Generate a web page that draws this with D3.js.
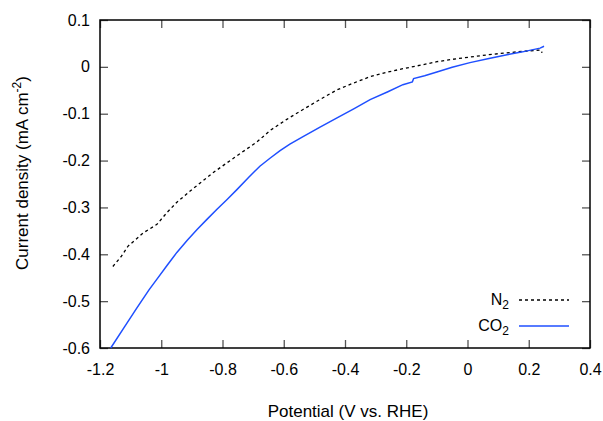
<!DOCTYPE html>
<html>
<head>
<meta charset="utf-8">
<script src="https://cdn.jsdelivr.net/npm/d3@7"></script>
<style>
  body { margin: 0; background: #fff; }
  text { font-family: "Liberation Sans", Arial, sans-serif; }
</style>
</head>
<body>
<svg id="chart" width="603" height="421"></svg>
<script>
// potential (V vs. RHE) and current density (mA cm-2)
var n2_x = [-1.158, -1.13, -1.109, -1.06, -1.014, -0.98, -0.949, -0.9, -0.831, -0.76, -0.687,
            -0.645, -0.59, -0.537, -0.48, -0.426, -0.37, -0.318, -0.26, -0.211, -0.15, -0.100,
            -0.05, 0.008, 0.07, 0.129, 0.18, 0.237, 0.242, 0.243];
var n2_y = [-0.426, -0.404, -0.383, -0.355, -0.336, -0.31, -0.289, -0.262, -0.226, -0.193, -0.160,
            -0.136, -0.112, -0.091, -0.069, -0.049, -0.034, -0.021, -0.011, -0.004, 0.004, 0.011,
            0.016, 0.021, 0.026, 0.030, 0.033, 0.036, 0.034, 0.030];

var co2_x = [-1.165, -1.12, -1.08, -1.04, -1.014, -0.98, -0.949, -0.915, -0.883, -0.85, -0.818,
             -0.785, -0.753, -0.715, -0.678, -0.645, -0.612, -0.58, -0.537, -0.48, -0.426, -0.37, -0.318,
             -0.26, -0.211, -0.18, -0.176, -0.14, -0.100, -0.05, 0.008, 0.07, 0.129, 0.18, 0.237, 0.25];
var co2_y = [-0.600, -0.555, -0.515, -0.476, -0.453, -0.423, -0.396, -0.37, -0.347, -0.325, -0.304,
             -0.283, -0.262, -0.236, -0.212, -0.195, -0.179, -0.165, -0.149, -0.128, -0.109, -0.089, -0.070,
             -0.053, -0.038, -0.032, -0.025, -0.019, -0.011, -0.001, 0.009, 0.018, 0.026, 0.032, 0.040, 0.044];

var x_ticks = [-1.2, -1, -0.8, -0.6, -0.4, -0.2, 0, 0.2, 0.4];
var y_ticks = [0.1, 0, -0.1, -0.2, -0.3, -0.4, -0.5, -0.6];

var svg = d3.select('#chart');
var m_left = 100, m_right = 590, m_top = 20, m_bottom = 348;

var x = d3.scaleLinear().domain([-1.2, 0.4]).range([m_left, m_right]);
var y = d3.scaleLinear().domain([-0.6, 0.1]).range([m_bottom, m_top]);

// plain hyphen minus, no trailing zeros
var fmt = function(d){ return String(+d.toFixed(1)); };

// ticks on all four sides, pointing inwards
var tickLen = 8;
var axes = svg.append('g');
axes.append('g').attr('transform', 'translate(0,' + m_bottom + ')')
    .call(d3.axisBottom(x).tickValues(x_ticks).tickSize(-tickLen).tickPadding(16).tickFormat(fmt));
axes.append('g').attr('transform', 'translate(0,' + m_top + ')')
    .call(d3.axisTop(x).tickValues(x_ticks).tickSize(-tickLen).tickFormat(''));
axes.append('g').attr('transform', 'translate(' + m_left + ',0)')
    .call(d3.axisLeft(y).tickValues(y_ticks).tickSize(-tickLen).tickPadding(10).tickFormat(fmt));
axes.append('g').attr('transform', 'translate(' + m_right + ',0)')
    .call(d3.axisRight(y).tickValues(y_ticks).tickSize(-tickLen).tickFormat(''));
axes.selectAll('.domain').remove();
axes.selectAll('.tick line').attr('stroke', '#555').attr('stroke-width', 1.3);
axes.selectAll('.tick text').attr('font-size', 16).attr('fill', '#000')
    .attr('font-family', '"Liberation Sans", Arial, sans-serif');

// frame
svg.append('rect')
    .attr('x', m_left).attr('y', m_top)
    .attr('width', m_right - m_left).attr('height', m_bottom - m_top)
    .attr('fill', 'none').attr('stroke', '#000').attr('stroke-width', 1.5);

// curves
var line = d3.line().x(function(d){ return x(d[0]); }).y(function(d){ return y(d[1]); });
var n2 = d3.zip(n2_x, n2_y);
var co2 = d3.zip(co2_x, co2_y);

svg.append('path').datum(n2).attr('d', line)
    .attr('fill', 'none').attr('stroke', '#000').attr('stroke-width', 1.3)
    .attr('stroke-dasharray', '3,3');
svg.append('path').datum(co2).attr('d', line)
    .attr('fill', 'none').attr('stroke', '#1f4fff').attr('stroke-width', 1.5);

// legend
var lg = svg.append('g').attr('font-size', 16);
var lt1 = lg.append('text').attr('x', 509).attr('y', 305).attr('text-anchor', 'end');
lt1.append('tspan').text('N');
lt1.append('tspan').text('2').attr('font-size', 12).attr('dy', 4);
lg.append('line').attr('x1', 519).attr('x2', 569).attr('y1', 300).attr('y2', 300)
    .attr('stroke', '#000').attr('stroke-width', 1.3).attr('stroke-dasharray', '3,3');
var lt2 = lg.append('text').attr('x', 509).attr('y', 331).attr('text-anchor', 'end');
lt2.append('tspan').text('CO');
lt2.append('tspan').text('2').attr('font-size', 12).attr('dy', 4);
lg.append('line').attr('x1', 519).attr('x2', 569).attr('y1', 326).attr('y2', 326)
    .attr('stroke', '#1f4fff').attr('stroke-width', 1.5);

// axis titles
svg.append('text').attr('x', 348).attr('y', 417).attr('text-anchor', 'middle')
    .attr('font-size', 17).text('Potential (V vs. RHE)');
var yt = svg.append('text').attr('transform', 'translate(28,' + 173 + ') rotate(-90)')
    .attr('text-anchor', 'middle').attr('font-size', 17);
yt.append('tspan').text('Current density (mA cm');
yt.append('tspan').text('-2').attr('font-size', 12).attr('dy', -7);
yt.append('tspan').text(')').attr('dy', 7);
</script>
</body>
</html>
